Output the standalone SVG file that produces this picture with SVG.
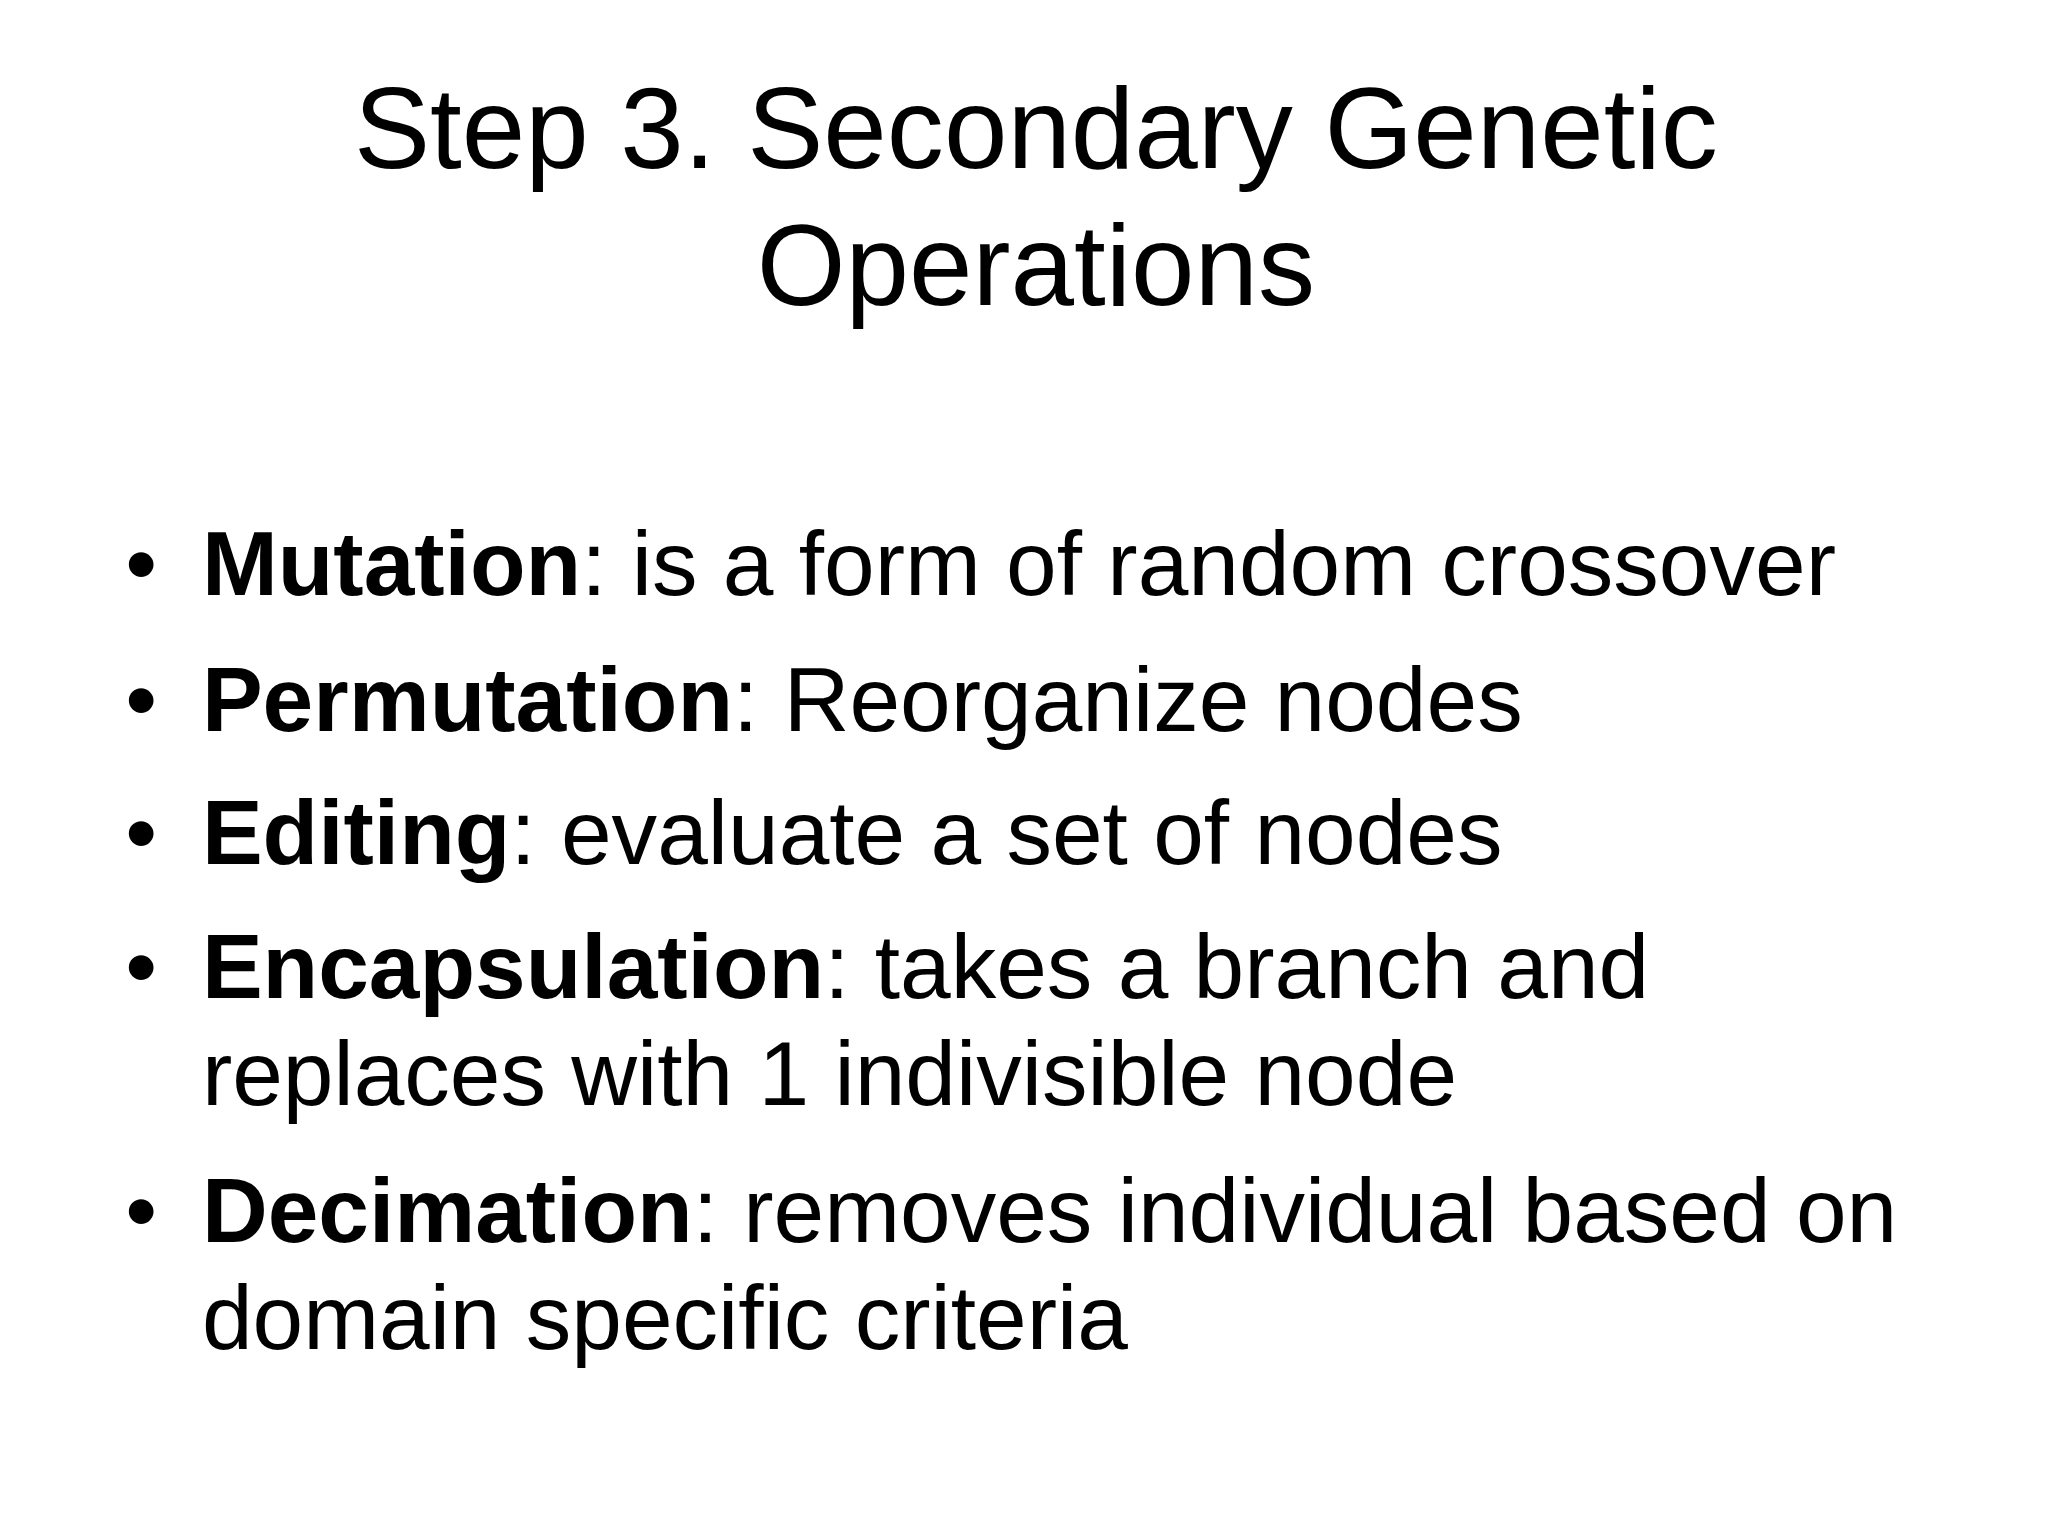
<svg xmlns="http://www.w3.org/2000/svg" width="2048" height="1536" viewBox="0 0 2048 1536">
<style>
text{font-family:"Liberation Sans",Arial,sans-serif;fill:#000}
.t{font-size:86.5px;text-anchor:middle}
.b{font-size:69px}
.k{font-weight:bold}
</style>
<rect width="2048" height="1536" fill="#fff"/>
<g transform="scale(1.3196)">
<g id="title">
<text class="t" x="785" y="127">Step 3. Secondary Genetic</text>
<text class="t" x="785" y="231">Operations</text>
</g>
<g id="bullets" class="b">
<text x="95" y="451">•</text><text x="153" y="451"><tspan class="k">Mutation</tspan>: is a form of random crossover</text>
<text x="95" y="554">•</text><text x="153" y="554"><tspan class="k">Permutation</tspan>: Reorganize nodes</text>
<text x="95" y="655">•</text><text x="153" y="655"><tspan class="k">Editing</tspan>: evaluate a set of nodes</text>
<text x="95" y="756">•</text><text x="153" y="756"><tspan class="k">Encapsulation</tspan>: takes a branch and</text>
<text x="153" y="837">replaces with 1 indivisible node</text>
<text x="95" y="941">•</text><text x="153" y="941"><tspan class="k">Decimation</tspan>: removes individual based on</text>
<text x="153" y="1022">domain specific criteria</text>
</g>
</g>
</svg>
